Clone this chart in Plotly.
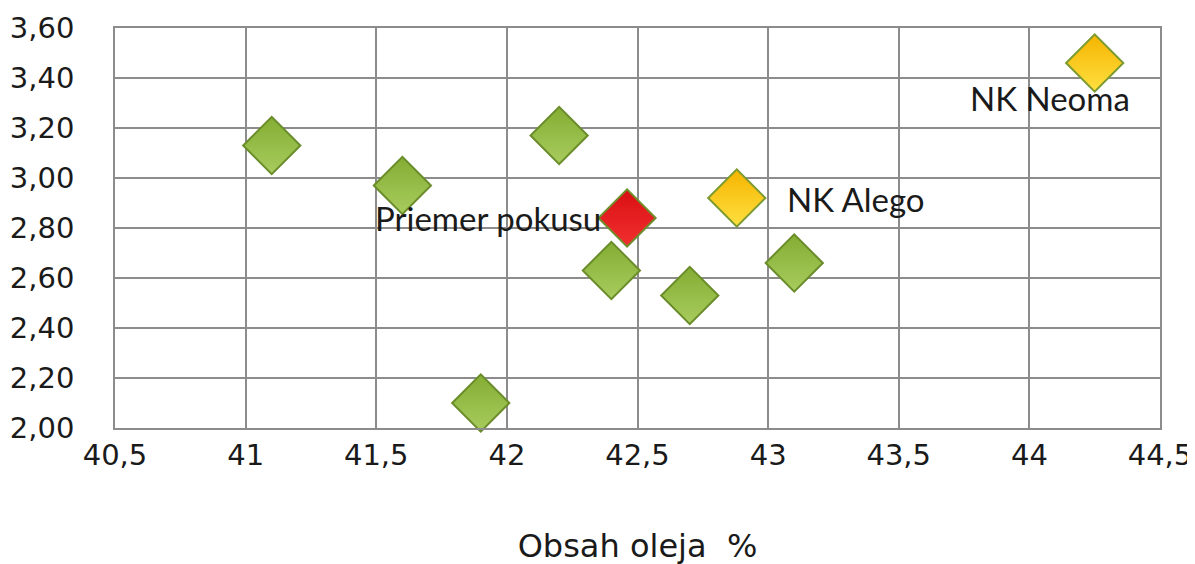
import plotly.graph_objects as go

# Data
green_x = [41.1, 41.6, 42.2, 41.9, 42.4, 42.7, 43.1]
green_y = [3.13, 2.97, 3.17, 2.10, 2.63, 2.53, 2.66]
mean_x = [42.46]
mean_y = [2.84]
mean_label = ["Priemer pokusu"]
hybrid_x = [42.88, 44.25]
hybrid_y = [2.92, 3.46]
hybrid_labels = ["NK Alego", "NK Neoma"]

x_title = "Obsah oleja\u00a0\u00a0%"

fig = go.Figure()

def diamonds(x, y, color, light, line_color, name):
    fig.add_trace(go.Scatter(
        x=x, y=y, mode="markers", name=name, showlegend=False,
        marker=dict(symbol="diamond", size=44, color=color,
                    gradient=dict(type="vertical", color=light),
                    line=dict(color=line_color, width=2)),
        cliponaxis=False,
    ))

diamonds(green_x, green_y, "#84AD33", "#A8CC5E", "#6A8C2A", "green")
diamonds(mean_x, mean_y, "#D90F12", "#F23030", "#6E8E2C", "mean")
diamonds(hybrid_x, hybrid_y, "#F5B400", "#FFE040", "#7C9A30", "hybrids")

font_lbl = dict(family="Lato, Liberation Sans, sans-serif", size=33, color="#1a1a1a")
fig.add_annotation(x=mean_x[0], y=mean_y[0], text=mean_label[0], showarrow=False,
                   xanchor="right", yanchor="middle", xshift=-24, yshift=0, font=font_lbl)
fig.add_annotation(x=hybrid_x[0], y=hybrid_y[0], text=hybrid_labels[0], showarrow=False,
                   xanchor="left", yanchor="middle", xshift=48, yshift=-1, font=font_lbl)
fig.add_annotation(x=hybrid_x[1], y=hybrid_y[1], text=hybrid_labels[1], showarrow=False,
                   xanchor="center", yanchor="middle", xshift=-45, yshift=-35, font=font_lbl)

axis_font = dict(family="DejaVu Sans, Verdana, sans-serif", size=29, color="#1a1a1a")
title_font = dict(family="DejaVu Sans, Verdana, sans-serif", size=32, color="#1a1a1a")

fig.update_layout(
    width=1195, height=564,
    margin=dict(l=107, r=43, t=20, b=144),
    paper_bgcolor="white", plot_bgcolor="white",
    separators=", ",
    xaxis=dict(range=[40.5, 44.5], dtick=0.5, tick0=40.5, automargin=False,
               showgrid=True, gridcolor="#8C8C8C", gridwidth=1.5,
               showline=True, linecolor="#8C8C8C", linewidth=1.5, mirror=True,
               zeroline=False, ticks="", tickfont=axis_font, ticklabelstandoff=0,
               title=dict(text=x_title, font=title_font, standoff=64)),
    yaxis=dict(range=[2.0, 3.6], dtick=0.2, tick0=2.0, tickformat=".2f", automargin=False,
               showgrid=True, gridcolor="#8C8C8C", gridwidth=1.5,
               showline=True, linecolor="#8C8C8C", linewidth=1.5, mirror=True,
               zeroline=False, ticks="", tickfont=axis_font, ticklabelstandoff=33),
)

fig.write_html("out.html")
